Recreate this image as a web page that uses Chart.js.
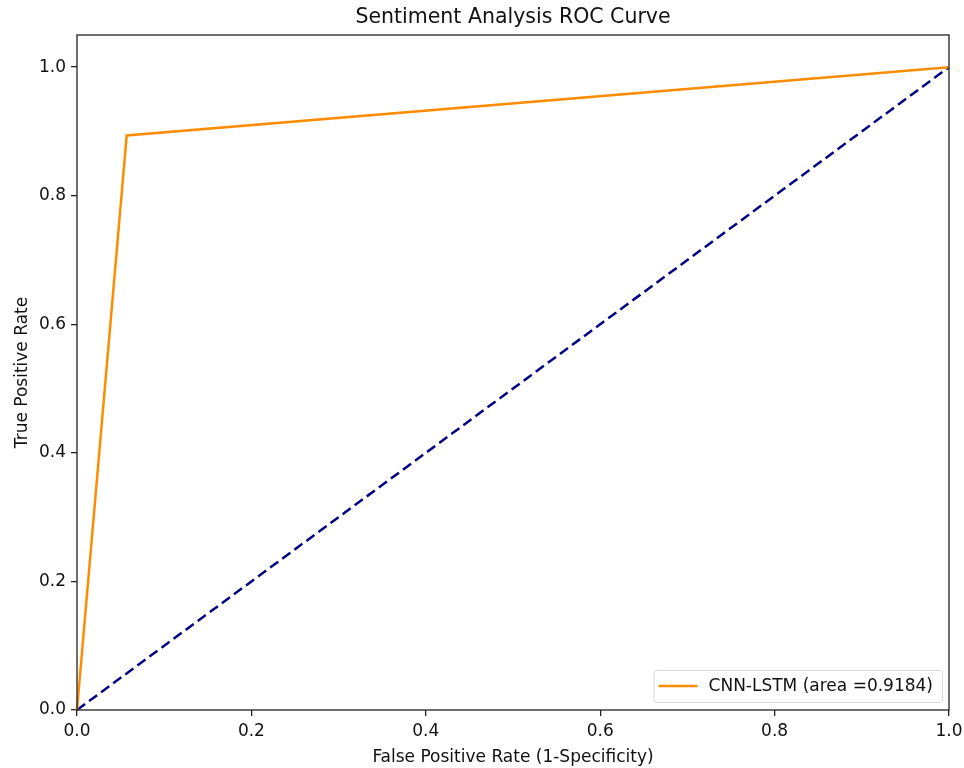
<!DOCTYPE html>
<html>
<head>
<meta charset="utf-8">
<title>Sentiment Analysis ROC Curve</title>
<script src="https://cdn.jsdelivr.net/npm/chart.js@4/dist/chart.umd.min.js"></script>
<style>
  html, body { margin: 0; padding: 0; background: #fff; }
  canvas { display: block; }
</style>
</head>
<body>
<canvas id="roc-chart" width="964" height="768"></canvas>
<script>
// ROC points
const fprCnn = [0, 0.057, 1];
const tprCnn = [0, 0.8938, 1];
const fprChance = [0, 1];
const tprChance = [0, 1];
const tickValues = [0, 0.2, 0.4, 0.6, 0.8, 1.0];
const cnnLabel = "CNN-LSTM (area =0.9184)";

const FONT = "'DejaVu Sans', sans-serif";
const TXT = 17;

// frame, title and matplotlib-like legend
const extras = {
  id: "extras",
  afterDraw(chart) {
    const { ctx, chartArea } = chart;
    ctx.save();
    // box around plot
    ctx.strokeStyle = "#222";
    ctx.lineWidth = 1.3;
    ctx.strokeRect(chartArea.left, chartArea.top,
      chartArea.right - chartArea.left, chartArea.bottom - chartArea.top);

    // title
    ctx.fillStyle = "#111";
    ctx.font = "20.5px " + FONT;
    ctx.textAlign = "center";
    ctx.textBaseline = "middle";
    ctx.fillText("Sentiment Analysis ROC Curve", (chartArea.left + chartArea.right) / 2, 18);

    // legend
    const ds = chart.data.datasets[0];
    ctx.font = TXT + "px " + FONT;
    const tw = ctx.measureText(ds.label).width;
    const w = tw + 64, h = 32;
    const x = chartArea.right - 7 - w, y = chartArea.bottom - 8 - h;
    ctx.fillStyle = "rgba(255,255,255,0.8)";
    ctx.strokeStyle = "#d6d6d6";
    ctx.lineWidth = 1;
    ctx.beginPath();
    ctx.roundRect(x + 0.5, y + 0.5, w, h, 3);
    ctx.fill();
    ctx.stroke();
    ctx.strokeStyle = ds.borderColor;
    ctx.lineWidth = ds.borderWidth;
    ctx.beginPath();
    ctx.moveTo(x + 5, y + h / 2);
    ctx.lineTo(x + 44, y + h / 2);
    ctx.stroke();
    ctx.fillStyle = "#111";
    ctx.textAlign = "left";
    ctx.fillText(ds.label, x + 55, y + h / 2 + 1);
    ctx.restore();
  }
};

const fmt = (v) => Number(v).toFixed(1);

new Chart(document.getElementById("roc-chart"), {
  type: "scatter",
  data: {
    datasets: [
      {
        label: cnnLabel,
        data: fprCnn.map((x, i) => ({ x: x, y: tprCnn[i] })),
        showLine: true,
        borderColor: "#ff8c00",
        backgroundColor: "#ff8c00",
        borderWidth: 2.5,
        pointRadius: 0,
        clip: false,
      },
      {
        label: "chance",
        data: fprChance.map((x, i) => ({ x: x, y: tprChance[i] })),
        showLine: true,
        borderColor: "#000080",
        borderWidth: 2.5,
        borderDash: [10, 5],
        pointRadius: 0,
        clip: false,
      },
    ],
  },
  options: {
    responsive: false,
    animation: false,
    devicePixelRatio: 1,
    layout: { padding: { top: 35, right: 15, left: 0, bottom: 0 } },
    plugins: {
      legend: { display: false },
      tooltip: { enabled: false },
    },
    scales: {
      x: {
        type: "linear",
        min: 0,
        max: 1,
        afterBuildTicks: (s) => { s.ticks = tickValues.map((v) => ({ value: v })); },
        afterFit: (s) => {
          s.height = 58;
          s.paddingLeft = 0;
          s.paddingRight = 0;
        },
        ticks: {
          callback: fmt,
          color: "#111",
          font: { family: FONT, size: TXT },
          padding: 5,
          maxRotation: 0,
        },
        grid: { drawOnChartArea: false, tickLength: 6, tickColor: "#222", lineWidth: 1.3 },
        border: { display: false },
        title: {
          display: true,
          text: "False Positive Rate (1-Specificity)",
          color: "#111",
          font: { family: FONT, size: TXT },
          padding: { top: 0, bottom: 0 },
        },
      },
      y: {
        type: "linear",
        min: 0,
        max: 1.05,
        afterBuildTicks: (s) => { s.ticks = tickValues.map((v) => ({ value: v })); },
        afterFit: (s) => {
          s.width = 77;
          s.paddingTop = 0;
          s.paddingBottom = 0;
        },
        ticks: {
          callback: fmt,
          color: "#111",
          font: { family: FONT, size: TXT },
          padding: 5,
        },
        grid: { drawOnChartArea: false, tickLength: 6, tickColor: "#222", lineWidth: 1.3 },
        border: { display: false },
        title: {
          display: true,
          text: "True Positive Rate",
          color: "#111",
          font: { family: FONT, size: TXT },
          padding: { top: 12, bottom: 0 },
        },
      },
    },
  },
  plugins: [extras],
});
</script>
</body>
</html>
